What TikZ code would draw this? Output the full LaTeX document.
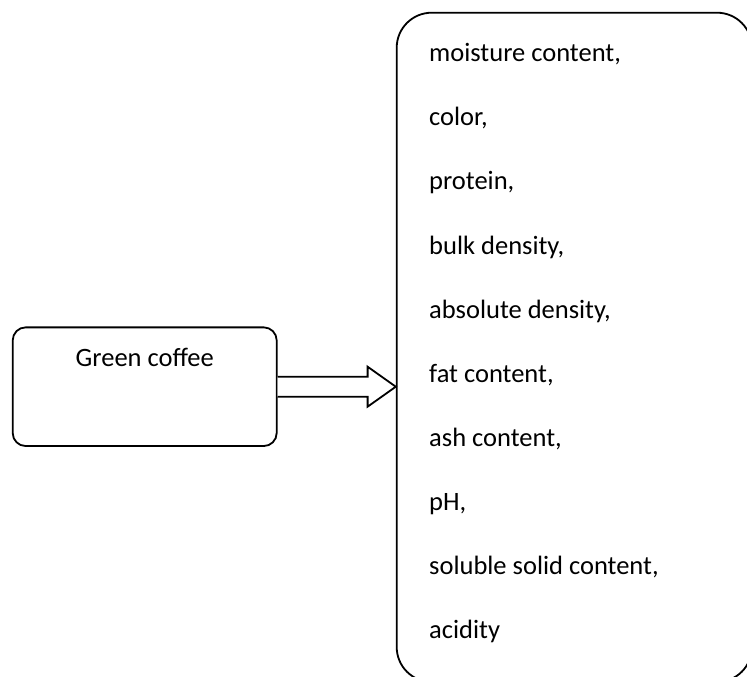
\documentclass[tikz,border=0pt]{standalone}
\usepackage{fontspec}
\setmainfont{Carlito}
\usetikzlibrary{calc}
\begin{document}
\begin{tikzpicture}[x=1pt,y=-1pt,
  boxline/.style={draw=black,line width=1.8pt,fill=white},
  greenbox/.style={boxline,rectangle,rounded corners=13pt,minimum width=264pt,minimum height=118.7pt,inner sep=0pt},
  propbox/.style={boxline,rectangle,rounded corners=35pt,minimum width=355.3pt,minimum height=669.3pt,inner sep=0pt},
  txt/.style={font=\fontsize{26.5}{30}\selectfont,inner sep=0pt},
  hollowarrow/.style={draw=black,line width=1.8pt,line join=miter,fill=white}]
\useasboundingbox (0,0) rectangle (747,677);
\clip (0,0) rectangle (747,677);
\fill[white] (0,0) rectangle (747,677);
\node[greenbox] (green) at (144.7,386.7) {};
\node[txt,anchor=base] (greentxt) at (144.7,366.7) {Green coffee};
\node[propbox] (props) at (574.35,347.35) {};
\node[txt,anchor=base west] (p0) at (429,61.7) {moisture content,};
\node[txt,anchor=base west] (p1) at (429,125.8) {color,};
\node[txt,anchor=base west] (p2) at (429,189.9) {protein,};
\node[txt,anchor=base west] (p3) at (429,254.0) {bulk density,};
\node[txt,anchor=base west] (p4) at (429,318.1) {absolute density,};
\node[txt,anchor=base west] (p5) at (429,382.2) {fat content,};
\node[txt,anchor=base west] (p6) at (429,446.3) {ash content,};
\node[txt,anchor=base west] (p7) at (429,510.4) {pH,};
\node[txt,anchor=base west] (p8) at (429,574.5) {soluble solid content,};
\node[txt,anchor=base west] (p9) at (429,638.6) {acidity};
\coordinate (tip) at (props.west |- green.east);
\draw[hollowarrow] ($(green.east)+(0,-10)$) -- ($(green.east)+(90,-10)$) -- ($(green.east)+(90,-20)$) -- (tip) -- ($(green.east)+(90,20)$) -- ($(green.east)+(90,10)$) -- ($(green.east)+(0,10)$);
\end{tikzpicture}
\end{document}
